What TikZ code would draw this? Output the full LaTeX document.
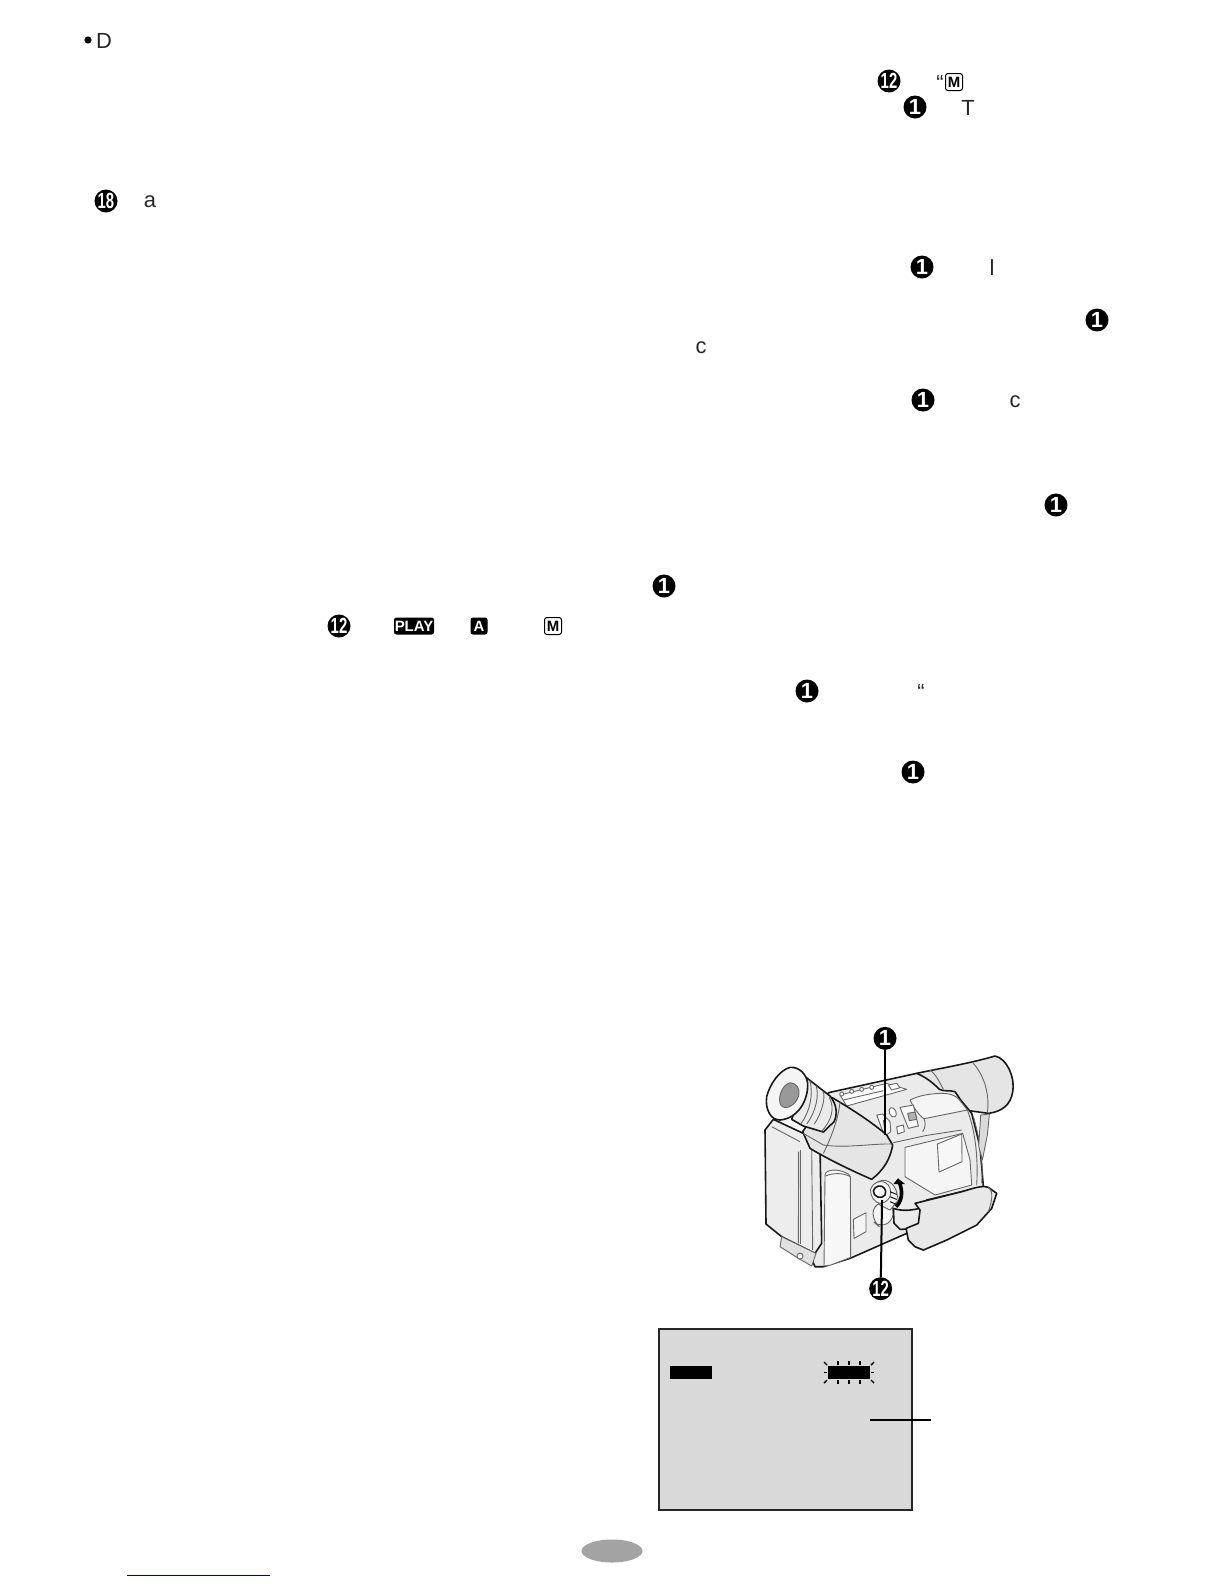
\documentclass[tikz,border=0pt]{standalone}
\usepackage{fontspec}
\setmainfont{Liberation Sans}
\tikzset{
	pagetext/.style={font=\fontsize{11}{13}\selectfont, inner sep=0pt, text=black!85},
	numdisc/.style={circle, fill=black, text=white, inner sep=0pt, minimum size=11.5bp, font=\fontsize{11}{11}\selectfont\bfseries},
	iconbox/.style={rounded corners=1.2bp, fill=black, text=white, inner sep=0pt, minimum height=8.5bp, font=\fontsize{7.5}{8}\selectfont\bfseries},
	camline/.style={line width=0.45bp, draw=black!60, line join=round},
	camthick/.style={line width=0.8bp, draw=black!90, line join=round},
	leader/.style={line width=1.2bp, draw=black},
	spark/.style={line width=0.7bp, draw=black}
}
\begin{document}
\begin{tikzpicture}[x=0.5bp, y=-0.5bp]
			%%%%% START %%%%%
			\useasboundingbox (0, 0) rectangle (1224, 1584);
			
			% text fragments
			\fill[black] (88, 40) circle (3.6);
			\node[pagetext] (bulletD) at (104, 41) {D};
			\node[numdisc] (disctwelveA) at (889, 81) {\scalebox{.68}[1]{12}};
			\node[pagetext] (quoteA) at (940, 83) {“};
			\node[iconbox, fill=white, text=black, draw=black, line width=0.5bp, minimum width=8.5bp] (iconmA) at (954, 82) {M};
			\node[numdisc] (disconeA) at (915, 107) {1};
			\node[pagetext] (letterT) at (968, 108) {T};
			\node[numdisc] (disceighteen) at (106, 201) {\scalebox{.68}[1]{18}};
			\node[pagetext] (lettera) at (150, 202) {a};
			\node[numdisc] (disconeB) at (922, 267) {1};
			\node[pagetext] (letterl) at (992, 268) {l};
			\node[numdisc] (disconeC) at (1097, 320) {1};
			\node[pagetext] (lettercA) at (701, 348) {c};
			\node[numdisc] (disconeD) at (923, 400) {1};
			\node[pagetext] (lettercB) at (1015, 402) {c};
			\node[numdisc] (disconeE) at (1056, 505) {1};
			\node[numdisc] (disconeF) at (664, 586) {1};
			\node[numdisc] (disctwelveB) at (339, 626) {\scalebox{.68}[1]{12}};
			\node[iconbox, minimum width=20bp] (iconplay) at (414, 626) {PLAY};
			\node[iconbox, minimum width=8.5bp] (icona) at (479, 626) {A};
			\node[iconbox, fill=white, text=black, draw=black, line width=0.5bp, minimum width=8.5bp] (iconmB) at (553, 626) {M};
			\node[numdisc] (disconeG) at (807, 691) {1};
			\node[pagetext] (quoteB) at (921, 692) {“};
			\node[numdisc] (disconeH) at (913, 772) {1};
			
			% camcorder
			\begin{scope}[shift={(740, 1020)}, x=0.1667bp, y=-0.1667bp]
				% lens barrel
				\draw[camthick, fill=black!10] (530, 160) .. controls (600, 145) and (690, 130) .. (765, 108) .. controls (800, 115) and (825, 170) .. (818, 215) .. controls (812, 255) and (785, 275) .. (745, 280) -- (600, 260) -- cycle;
				\draw[camline] (695, 125) .. controls (730, 160) and (750, 220) .. (742, 278);
				\draw[camline] (570, 150) .. controls (590, 165) and (600, 190) .. (610, 208);
				% top plate and body
				\draw[camthick, fill=black!8] (265, 218) -- (530, 160) .. controls (565, 175) and (585, 195) .. (598, 208) .. controls (610, 215) and (630, 210) .. (645, 215) -- (662, 240) -- (695, 280) -- (720, 380) -- (730, 500) -- (560, 540) -- (500, 640) -- (330, 715) -- (250, 740) -- (225, 740) -- (180, 640) -- cycle;
				\draw[camline, fill=white] (300, 225) -- (440, 190) -- (500, 208) -- (320, 258) -- cycle;
				\foreach \dotx/\doty in {305/222, 335/214, 365/208, 395/202}
					\draw[camline, fill=white] (\dotx, \doty) circle (6);
				\draw[camline] (310, 240) -- (430, 212);
				\draw[camline, fill=white] (445, 195) -- (470, 190) -- (480, 203) -- (455, 210) -- cycle;
				% body panels
				\draw[camline, fill=black!4] (510, 240) .. controls (540, 225) and (570, 222) .. (598, 220) .. controls (625, 220) and (645, 222) .. (660, 242) -- (682, 270) -- (552, 296) .. controls (540, 290) and (520, 262) .. (510, 240) -- cycle;
				\draw[camline] (552, 296) .. controls (556, 305) and (558, 320) .. (548, 335);
				\draw[camline] (460, 368) -- (560, 346) -- (665, 330);
				\draw[camline, fill=black!4] (495, 382) -- (668, 340) -- (690, 420) -- (695, 495) -- (585, 525) -- (495, 470) -- cycle;
				\draw[camline, fill=black!3] (592, 372) -- (665, 342) -- (666, 425) -- (597, 456) -- cycle;
				\draw[camline] (682, 270) .. controls (705, 330) and (715, 410) .. (710, 495);
				\draw[camline] (700, 290) .. controls (718, 350) and (730, 420) .. (725, 490);
				\draw[camline, fill=black!14] (722, 285) -- (748, 282) -- (742, 345) -- (727, 420) -- (716, 378) -- cycle;
				% switches
				\draw[camline, fill=black!3] (480, 262) -- (520, 255) -- (535, 318) -- (505, 325) -- cycle;
				\draw[camline, fill=black!30] (503, 280) -- (525, 276) -- (530, 298) -- (508, 302) -- cycle;
				\draw[camline, rotate around={25:(458, 277)}, fill=white] (458, 277) ellipse (10 and 15);
				\draw[camline, fill=white] (470, 320) -- (490, 315) -- (493, 335) -- (473, 342) -- cycle;
				\draw[camline, fill=black!3] (410, 285) -- (428, 282) -- (450, 305) -- (452, 335) -- (435, 348) -- (425, 325) -- cycle;
				\draw[camline] (430, 300) -- (435, 340);
				% side monitor
				\draw[camthick, fill=black!7] (100, 298) -- (190, 340) -- (240, 380) -- (245, 670) -- (225, 700) -- (125, 650) -- (78, 612) -- (75, 330) -- cycle;
				\draw[camline] (95, 320) -- (180, 365);
				\draw[camline] (176, 395) -- (175, 670);
				\draw[camline] (215, 385) -- (218, 690);
				\draw[camline] (182, 390) -- (182, 672);
				\draw[camline, fill=black!12] (125, 650) -- (120, 680) -- (175, 715) -- (215, 738) -- (228, 700) -- cycle;
				\draw[camline, fill=white] (180, 708) circle (9);
				% battery
				\draw[camline, fill=black!3] (255, 465) .. controls (255, 450) and (290, 442) .. (325, 462) -- (331, 470) -- (332, 712) -- (272, 735) -- (252, 738) -- cycle;
				\draw[camline] (256, 468) .. controls (280, 458) and (310, 458) .. (331, 470);
				\draw[camline, fill=black!4] (340, 598) -- (378, 578) -- (378, 635) -- (342, 655) -- cycle;
				\draw[camline, fill=black!4, rounded corners=4bp] (398, 556) -- (455, 540) -- (462, 600) -- (420, 622) -- (400, 605) -- cycle;
				% eyepiece
				\draw[camthick, fill=black!10] (188, 335) -- (232, 270) -- (275, 232) .. controls (340, 270) and (400, 310) .. (440, 345) -- (458, 375) .. controls (450, 420) and (430, 450) .. (395, 478) .. controls (320, 445) and (260, 415) .. (210, 385) -- cycle;
				\draw[camline] (300, 245) .. controls (295, 300) and (270, 360) .. (250, 400);
				\draw[camline] (190, 340) -- (250, 375);
				\draw[camline] (250, 375) .. controls (320, 385) and (400, 370) .. (455, 372);
				\draw[camthick, fill=black!8] (198, 172) -- (270, 228) .. controls (292, 255) and (292, 285) .. (282, 305) -- (250, 336) -- (190, 318) -- (155, 298) -- cycle;
				\foreach \ribx/\riby/\ribd in {210/182/-28, 228/196/-28, 248/212/-25}
					\draw[camline] (\ribx, \riby) .. controls (\ribx+10, 225) and (\ribx, 275) .. (\ribx+\ribd, 312);
				\draw[camline] (268, 232) .. controls (285, 265) and (275, 300) .. (245, 334);
				\draw[camthick, fill=black!4] (150, 142) .. controls (180, 140) and (200, 165) .. (203, 190) .. controls (205, 240) and (175, 295) .. (120, 300) .. controls (90, 300) and (75, 265) .. (80, 230) .. controls (90, 190) and (120, 150) .. (150, 142) -- cycle;
				\draw[camline, fill=black!40] (150, 188) .. controls (170, 190) and (182, 205) .. (175, 230) .. controls (165, 258) and (135, 272) .. (122, 255) .. controls (112, 235) and (125, 195) .. (150, 188) -- cycle;
				% grip and strap
				\draw[camthick, fill=black!8] (460, 565) .. controls (490, 575) and (515, 570) .. (540, 565) -- (545, 625) -- (480, 628) -- (462, 610) -- cycle;
				\draw[camthick, fill=black!9] (525, 550) -- (665, 515) .. controls (700, 505) and (725, 495) .. (745, 502) -- (770, 520) -- (755, 565) -- (710, 615) -- (620, 660) -- (550, 690) -- (525, 680) -- (505, 660) -- (498, 625) -- (535, 610) -- (540, 570) -- cycle;
				\draw[camline] (745, 502) .. controls (762, 515) and (755, 545) .. (745, 575);
				% dial
				\draw[camline, fill=black!6] (400, 498) .. controls (420, 470) and (455, 478) .. (468, 510) -- (475, 540) -- (450, 570) -- (420, 555) -- (398, 530) -- cycle;
				\draw[camline, fill=black!4] (392, 508) .. controls (400, 480) and (440, 475) .. (450, 505) .. controls (458, 530) and (440, 550) .. (420, 550) .. controls (405, 548) and (390, 530) .. (392, 508) -- cycle;
				\draw[camthick, fill=black!4] (415, 498) .. controls (430, 495) and (442, 510) .. (435, 525) .. controls (425, 540) and (398, 530) .. (400, 512) .. controls (402, 505) and (408, 500) .. (415, 498) -- cycle;
				\foreach \hatchy in {515, 530, 545}
					\draw[camline, draw=black] (450, \hatchy) -- (470, \hatchy+8);
				\draw[line width=1.8bp, draw=black] (468, 560) .. controls (485, 545) and (490, 515) .. (478, 488);
				\fill[black] (460, 492) -- (495, 492) -- (474, 475) -- cycle;
				% leaders
				\node[numdisc] (disconecam) at (435, 55) {1};
				\node[numdisc] (disctwelvecam) at (422, 806) {\scalebox{.68}[1]{12}};
				\coordinate (buttonend) at (435, 345);
				\coordinate (dialend) at (426, 540);
				\draw[leader, line width=1bp] (disconecam) -- (buttonend);
				\draw[leader, line width=1bp] (disctwelvecam) -- (dialend);
			\end{scope}
			
			% screen
			\draw[line width=0.8bp, draw=black!85, fill=black!15] (659, 1329) rectangle (912, 1510);
			\fill[black] (670, 1366) rectangle (712, 1379);
			\fill[black] (828, 1366) rectangle (870, 1379);
			\foreach \tickx in {838, 849, 860} {
				\draw[spark] (\tickx, 1361) -- (\tickx, 1365);
				\draw[spark] (\tickx, 1380) -- (\tickx, 1384);
			}
			\foreach \sparkx/\sparky/\sparkdx/\sparkdy in {827/1365/-3/-3, 871/1365/3/-3, 827/1380/-3/3, 871/1380/3/3, 827/1372.5/-3/0, 871/1372.5/3/0}
				\draw[spark] (\sparkx, \sparky) -- ++(\sparkdx, \sparkdy);
			\coordinate (screenleft) at (870, 1420);
			\coordinate (screenright) at (931, 1420);
			\draw[leader] (screenleft) -- (screenright);
			
			% page number oval and footer line
			\fill[black!36] (612, 1551) ellipse (30.5 and 11.5);
			\draw[line width=0.6bp, draw=blue!55!black] (127, 1575.5) -- (270, 1575.5);
			
			%%%%% END %%%%%
		\end{tikzpicture}
\end{document}
